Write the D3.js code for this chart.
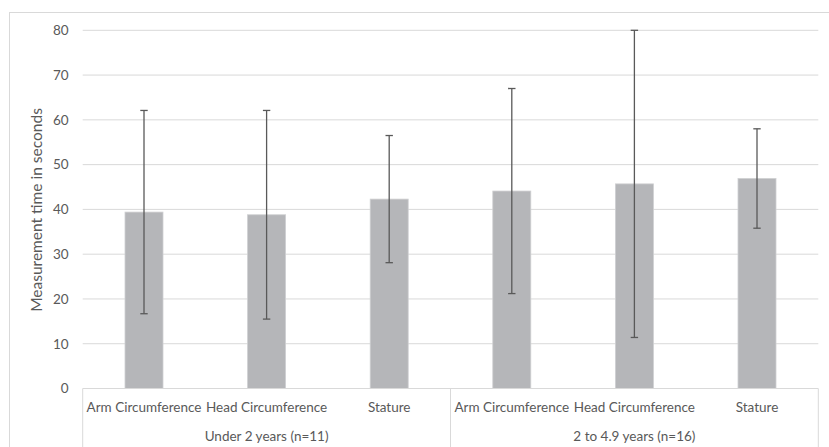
<!DOCTYPE html>
<html><head><meta charset="utf-8">
<script src="https://cdn.jsdelivr.net/npm/d3@7"></script>
<style>body{margin:0;background:#fff}svg{display:block}text{font-family:Lato,"Open Sans",sans-serif;fill:#595959}</style>
</head><body><svg id="c" width="829" height="447"></svg>
<script>
const groups = ["Under 2 years (n=11)", "2 to 4.9 years (n=16)"];
const measures = ["Arm Circumference", "Head Circumference", "Stature"];
const means = [39.4, 38.8, 42.3, 44.1, 45.7, 46.9];
const errors = [22.7, 23.3, 14.2, 22.9, 34.3, 11.1];
const yTicks = [0, 10, 20, 30, 40, 50, 60, 70, 80];
const yTitle = "Measurement time in seconds";

const svg = d3.select("#c");
const L = 82.7, R = 818.3, T = 30.3, B = 388.5;
const cats = [];
groups.forEach((g, gi) => measures.forEach((m, mi) => cats.push({g, m, id: gi + "|" + m, v: means[gi*3+mi], e: errors[gi*3+mi]})));

const x = d3.scaleBand().domain(cats.map(d => d.id)).range([L, R]).paddingInner(0.69).paddingOuter(0.345);
const y = d3.scaleLinear().domain([0, 80]).range([B, T]);

// outer frame
svg.append("rect").attr("x", 9.5).attr("y", 12.5).attr("width", 830).attr("height", 450).attr("fill", "none").attr("stroke", "#d9d9d9");

// gridlines
svg.append("g").selectAll("line").data(yTicks.filter(t => t > 0)).join("line")
  .attr("x1", L).attr("x2", R).attr("y1", d => y(d)).attr("y2", d => y(d))
  .attr("stroke", "#d9d9d9").attr("stroke-width", 1);

// y axis labels
const ya = svg.append("g").attr("transform", `translate(${L},0)`).call(d3.axisLeft(y).tickValues(yTicks).tickSize(0).tickPadding(14));
ya.select(".domain").remove();
ya.selectAll("text").style("font-size", "13.5px").attr("fill", "#595959").style("font-family", "Lato,'Open Sans',sans-serif");

svg.append("text").attr("transform", `translate(42,210) rotate(-90)`).attr("text-anchor", "middle")
  .style("font-size", "15.5px").text(yTitle);

// bars
svg.append("g").selectAll("rect").data(cats).join("rect")
  .attr("x", d => x(d.id)).attr("width", x.bandwidth())
  .attr("y", d => y(d.v)).attr("height", d => y(0) - y(d.v))
  .attr("fill", "#b5b6b9").attr("stroke", "#cfd0d2").attr("stroke-width", 0.8);

// error bars
const eb = svg.append("g").attr("stroke", "#595959").attr("stroke-width", 1.3);
cats.forEach(d => {
  const cx = x(d.id) + x.bandwidth()/2;
  eb.append("line").attr("x1", cx).attr("x2", cx).attr("y1", y(d.v + d.e)).attr("y2", y(d.v - d.e));
  [d.v + d.e, d.v - d.e].forEach(v => eb.append("line").attr("x1", cx - 3.7).attr("x2", cx + 3.7).attr("y1", y(v)).attr("y2", y(v)));
});

// category axis
const ax = svg.append("g").attr("stroke", "#d9d9d9").attr("stroke-width", 1);
ax.append("line").attr("x1", L).attr("x2", R).attr("y1", B).attr("y2", B);
const gw = (R - L) / groups.length;
d3.range(groups.length + 1).forEach(i => ax.append("line").attr("x1", L + i*gw).attr("x2", L + i*gw).attr("y1", B).attr("y2", 447));

svg.append("g").selectAll("text").data(cats).join("text")
  .attr("x", d => x(d.id) + x.bandwidth()/2).attr("y", 412).attr("text-anchor", "middle")
  .style("font-size", "13.5px").text(d => d.m);
svg.append("g").selectAll("text").data(groups).join("text")
  .attr("x", (d, i) => L + (i + 0.5)*gw).attr("y", 441).attr("text-anchor", "middle")
  .style("font-size", "13.5px").text(d => d);
</script></body></html>
